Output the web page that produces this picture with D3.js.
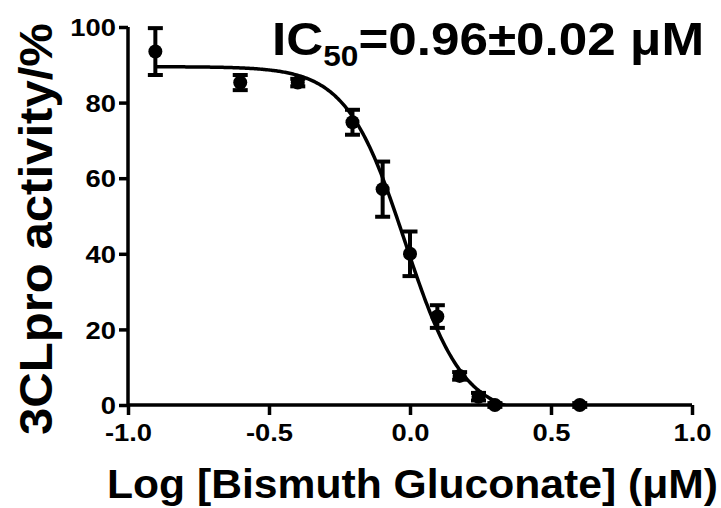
<!DOCTYPE html>
<html>
<head>
<meta charset="utf-8">
<script src="https://cdn.jsdelivr.net/npm/d3@7"></script>
<style>
  body { margin: 0; background: #fff; }
  text { font-family: "Liberation Sans", Arial, sans-serif; fill: #000; }
</style>
</head>
<body>
<svg width="721" height="508"></svg>
<script>
// log concentration (µM) and measured activity (%)
const logConc = [-0.903, -0.602, -0.398, -0.204, -0.097, 0.0, 0.097, 0.176, 0.243, 0.301, 0.602];
const activity = [93.5, 85.3, 85.3, 74.8, 57.1, 40.0, 23.4, 7.7, 2.2, 0.0, 0.0];
const sem = [6.2, 2.0, 1.0, 3.3, 7.3, 5.9, 3.0, 1.0, 1.0, 0.5, 0.5];

// dose-response fit (4 parameter logistic)
const fitTop = 89.5;
const fitBottom = -3;
const fitLogIC50 = -0.018;
const fitHill = 4.2;

const xTicks = [-1.0, -0.5, 0.0, 0.5, 1.0];
const xTickLabels = ["-1.0", "-0.5", "0.0", "0.5", "1.0"];
const yTicks = [0, 20, 40, 60, 80, 100];

const svg = d3.select("svg");

const x = d3.scaleLinear().domain([-1, 1]).range([128, 692]);
const y = d3.scaleLinear().domain([0, 100]).range([405, 27]);

// clip the fit so it stops at the x axis
svg.append("defs").append("clipPath").attr("id", "plot")
  .append("rect")
  .attr("x", x(-1)).attr("y", 0)
  .attr("width", x(1) - x(-1)).attr("height", y(0));

// axes
const xAxis = svg.append("g")
  .attr("transform", `translate(0,${y(0)})`)
  .call(d3.axisBottom(x).tickValues(xTicks)
    .tickFormat((d, i) => xTickLabels[i]).tickSize(10).tickPadding(4));
const yAxis = svg.append("g")
  .attr("transform", `translate(${x(-1)},0)`)
  .call(d3.axisLeft(y).tickValues(yTicks).tickSize(9).tickPadding(3));

[xAxis, yAxis].forEach(function (g) {
  g.select(".domain").attr("stroke", "#000").attr("stroke-width", 3.5)
    .attr("d", g === xAxis ? `M${x(-1)},0H${x(1)}` : `M0,${y(100)}V${y(0)}`);
  g.selectAll(".tick line").attr("stroke", "#000").attr("stroke-width", 3.5);
  g.selectAll(".tick text")
    .style("font-family", "Liberation Sans, Arial, sans-serif")
    .style("font-size", "24px")
    .style("font-weight", "bold")
    .attr("fill", "#000")
    .each(function () {
      // reference glyphs are a bit wider than Liberation Sans
      const w = this.getComputedTextLength();
      d3.select(this).attr("textLength", w * 1.14).attr("lengthAdjust", "spacingAndGlyphs");
    });
});
xAxis.selectAll(".tick text").attr("dy", "0.9em");
yAxis.selectAll(".tick text").attr("dy", "0.36em");

// fitted curve
const fit = function (v) {
  return fitBottom + (fitTop - fitBottom) / (1 + Math.pow(10, (v - fitLogIC50) * fitHill));
};
const curveX = d3.range(logConc[0], logConc[logConc.length - 1] + 0.001, 0.004);
svg.append("path")
  .attr("clip-path", "url(#plot)")
  .attr("fill", "none")
  .attr("stroke", "#000")
  .attr("stroke-width", 3.5)
  .attr("d", d3.line().x(d => x(d)).y(d => y(fit(d)))(curveX));

// error bars and points
const pts = logConc.map((c, i) => ({ c: c, v: activity[i], e: sem[i] }));
const eb = svg.append("g").attr("stroke", "#000").attr("stroke-width", 4);
eb.selectAll("line.v").data(pts).enter().append("line")
  .attr("x1", d => x(d.c)).attr("x2", d => x(d.c))
  .attr("y1", d => y(d.v + d.e)).attr("y2", d => y(d.v - d.e));
eb.selectAll("line.t").data(pts).enter().append("line")
  .attr("x1", d => x(d.c) - 7.5).attr("x2", d => x(d.c) + 7.5)
  .attr("y1", d => y(d.v + d.e)).attr("y2", d => y(d.v + d.e));
eb.selectAll("line.b").data(pts).enter().append("line")
  .attr("x1", d => x(d.c) - 7.5).attr("x2", d => x(d.c) + 7.5)
  .attr("y1", d => y(d.v - d.e)).attr("y2", d => y(d.v - d.e));

svg.append("g").selectAll("circle").data(pts).enter().append("circle")
  .attr("cx", d => x(d.c)).attr("cy", d => y(d.v))
  .attr("r", 7).attr("fill", "#000");

// labels
svg.append("text")
  .attr("x", 107).attr("y", 498)
  .attr("textLength", 611).attr("lengthAdjust", "spacingAndGlyphs")
  .style("font-size", "41px").style("font-weight", "bold")
  .text("Log [Bismuth Gluconate] (μM)");

svg.append("text")
  .attr("transform", "translate(52,435) rotate(-90)")
  .attr("textLength", 412).attr("lengthAdjust", "spacingAndGlyphs")
  .style("font-size", "46px").style("font-weight", "bold")
  .text("3CLpro activity/%");

const title = svg.append("text")
  .attr("transform", "translate(272,55) scale(1.09,1)")
  .style("font-size", "47px").style("font-weight", "bold");
title.append("tspan").text("IC");
title.append("tspan").attr("dy", 11).style("font-size", "29px").text("50");
title.append("tspan").attr("dy", -11).text("=0.96±0.02 μM");
</script>
</body>
</html>
